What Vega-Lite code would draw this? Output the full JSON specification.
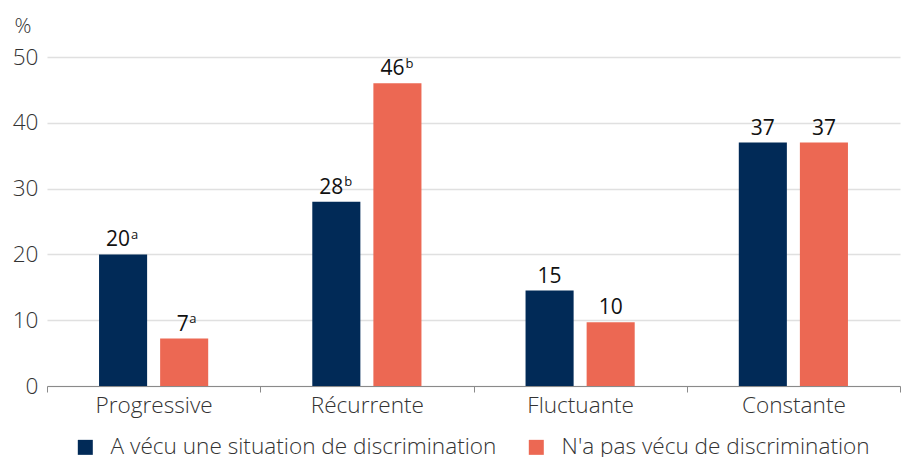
{
  "$schema": "https://vega.github.io/schema/vega-lite/v6.json",
  "autosize": {"type": "none"},
  "width": 853,
  "height": 329,
  "padding": {"left": 47, "top": 57, "right": 6, "bottom": 71},
  "background": "white",
  "config": {
    "font": "Open Sans",
    "view": {"stroke": null},
    "axis": {"labelFont": "Open Sans", "titleFont": "Open Sans"},
    "legend": {"labelFont": "Open Sans"}
  },
  "data": {
    "values": [
      {"cat": "Progressive", "grp": "A vécu une situation de discrimination", "value": 20, "num": "20", "sup": "a"},
      {"cat": "Progressive", "grp": "N'a pas vécu de discrimination", "value": 7.2, "num": "7", "sup": "a"},
      {"cat": "Récurrente", "grp": "A vécu une situation de discrimination", "value": 28, "num": "28", "sup": "b"},
      {"cat": "Récurrente", "grp": "N'a pas vécu de discrimination", "value": 46, "num": "46", "sup": "b"},
      {"cat": "Fluctuante", "grp": "A vécu une situation de discrimination", "value": 14.5, "num": "15", "sup": ""},
      {"cat": "Fluctuante", "grp": "N'a pas vécu de discrimination", "value": 9.7, "num": "10", "sup": ""},
      {"cat": "Constante", "grp": "A vécu une situation de discrimination", "value": 37, "num": "37", "sup": ""},
      {"cat": "Constante", "grp": "N'a pas vécu de discrimination", "value": 37, "num": "37", "sup": ""}
    ]
  },
  "encoding": {
    "x": {
      "field": "cat", "type": "nominal", "sort": null,
      "scale": {"paddingInner": 0, "paddingOuter": 0},
      "axis": {
        "title": null, "labelAngle": 0, "labelFontSize": 22.6, "labelFontWeight": 300, "labelColor": "#333333",
        "domainColor": "#8a8a8a", "tickColor": "#8a8a8a", "tickBand": "extent", "tickSize": 6,
        "labelPadding": 2, "grid": false
      }
    },
    "xOffset": {
      "field": "grp", "type": "nominal", "sort": null,
      "scale": {"paddingInner": 0.213, "paddingOuter": 0.852}
    },
    "y": {
      "field": "value", "type": "quantitative",
      "scale": {"domain": [0, 50]},
      "axis": {
        "title": "%", "titleAngle": 0, "titleAlign": "left", "titleBaseline": "alphabetic",
        "titleX": -33, "titleY": -25, "titleFontSize": 21, "titleFontWeight": 300, "titleColor": "#333333",
        "values": [0, 10, 20, 30, 40, 50], "labelFontSize": 22.6, "labelFontWeight": 300, "labelColor": "#333333",
        "ticks": false, "domain": false, "labelPadding": 9,
        "gridColor": "#e0e0e0", "gridWidth": 1.5
      }
    }
  },
  "layer": [
    {
      "mark": {"type": "bar"},
      "encoding": {
        "color": {
          "field": "grp", "type": "nominal", "sort": null,
          "scale": {"range": ["#012a57", "#ec6853"]},
          "legend": {
            "title": null, "orient": "none", "direction": "horizontal",
            "legendX": 27, "legendY": 379,
            "symbolType": "square", "symbolSize": 225, "symbolStrokeWidth": 0, "symbolOpacity": 1,
            "labelFontSize": 22.6, "labelFontWeight": 300, "labelColor": "#333333", "labelOffset": 14,
            "columnPadding": 28, "padding": 0, "labelLimit": 600
          }
        }
      }
    },
    {
      "transform": [{"filter": "datum.sup == ''"}],
      "mark": {"type": "text", "baseline": "alphabetic", "dy": -8, "fontSize": 21, "color": "#111111"},
      "encoding": {"text": {"field": "num"}}
    },
    {
      "transform": [{"filter": "datum.sup != '' && length(datum.num) == 2"}],
      "mark": {"type": "text", "baseline": "alphabetic", "dy": -8, "dx": -5, "fontSize": 21, "color": "#111111"},
      "encoding": {"text": {"field": "num"}}
    },
    {
      "transform": [{"filter": "datum.sup != '' && length(datum.num) == 2"}],
      "mark": {"type": "text", "baseline": "alphabetic", "align": "left", "dy": -15.5, "dx": 8, "fontSize": 13, "color": "#111111"},
      "encoding": {"text": {"field": "sup"}}
    },
    {
      "transform": [{"filter": "datum.sup != '' && length(datum.num) == 1"}],
      "mark": {"type": "text", "baseline": "alphabetic", "dy": -8, "dx": -1.5, "fontSize": 21, "color": "#111111"},
      "encoding": {"text": {"field": "num"}}
    },
    {
      "transform": [{"filter": "datum.sup != '' && length(datum.num) == 1"}],
      "mark": {"type": "text", "baseline": "alphabetic", "align": "left", "dy": -15.5, "dx": 5, "fontSize": 13, "color": "#111111"},
      "encoding": {"text": {"field": "sup"}}
    }
  ]
}
